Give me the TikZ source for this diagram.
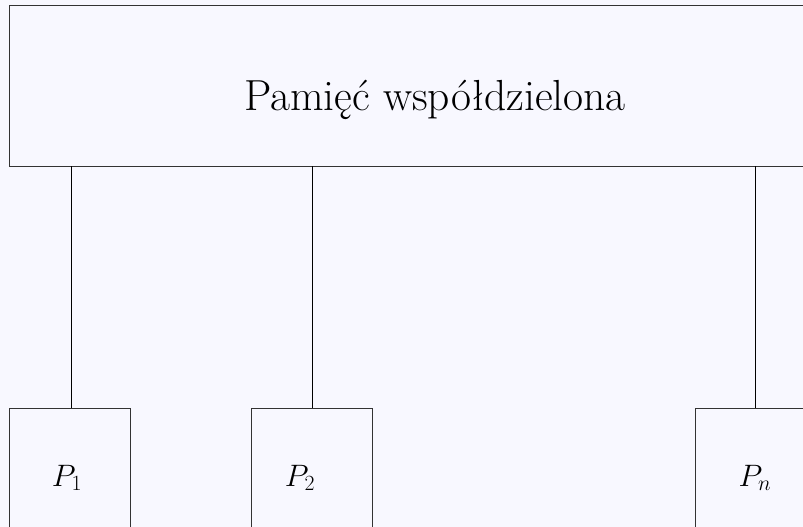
\RequirePackage{fix-cm}
\documentclass[tikz,border=0pt]{standalone}
\usepackage{fontspec}
\definecolor{bgc}{HTML}{F8F8FF}
\definecolor{edgec}{HTML}{333333}
\begin{document}
\begin{tikzpicture}[x=1pt,y=-1pt,
  box/.style={draw=edgec,line width=1pt,fill=bgc},
  conn/.style={draw=black,line width=1pt},
  lbl/.style={font=\fontsize{31}{36}\selectfont}]
\fill[bgc] (0,0) rectangle (803,527);
\useasboundingbox (0,0) rectangle (803,527);
\clip (0,0) rectangle (803,527);
\draw[box] (9,6) rectangle (861,166);
\node[font=\fontsize{43.5}{50}\selectfont] (mem) at (435,100) {Pamięć współdzielona};
\coordinate (m1) at (71,166);
\coordinate (m2) at (312,166);
\coordinate (mn) at (755,166);
\draw[box] (9,408) rectangle (130,552);
\draw[box] (251,408) rectangle (372,552);
\draw[box] (695,408) rectangle (816,552);
\coordinate (p1) at (71,408);
\coordinate (p2) at (312,408);
\coordinate (pn) at (755,408);
\node[lbl] (P1) at (67,478) {$P_1$};
\node[lbl] (P2) at (300,478) {$P_2$};
\node[lbl] (Pn) at (755,478) {$P_n$};
\draw[conn] (m1) -- (p1);
\draw[conn] (m2) -- (p2);
\draw[conn] (mn) -- (pn);
\end{tikzpicture}
\end{document}
